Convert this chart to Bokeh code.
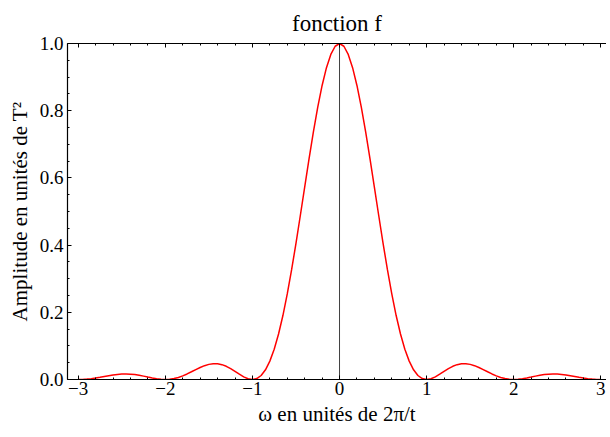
from bokeh.plotting import figure
from bokeh.models import (LinearAxis, SingleIntervalTicker, Span, Range1d,
                          CustomJSTickFormatter, ColumnDataSource)
from bokeh.embed import file_html
from bokeh.resources import INLINE

# ---- data ----
omega = [round(-3 + 0.05 * i, 2) for i in range(121)]
amp_pos = [1.0, 0.99179, 0.96753, 0.92814, 0.87514, 0.81057, 0.73684, 0.65665,
           0.57279, 0.48811, 0.40528, 0.32675, 0.25457, 0.19038, 0.13534,
           0.09006, 0.05470, 0.02890, 0.01194, 0.00275, 0.0,
           0.00225, 0.00800, 0.01579, 0.02431, 0.03242, 0.03924, 0.04414,
           0.04676, 0.04701, 0.04503, 0.04114, 0.03580, 0.02955, 0.02295,
           0.01654, 0.01080, 0.00610, 0.00268, 0.00065, 0.0,
           0.00059, 0.00219, 0.00452, 0.00723, 0.01001, 0.01254, 0.01457,
           0.01591, 0.01647, 0.01621, 0.01520, 0.01356, 0.01145, 0.00910,
           0.00670, 0.00447, 0.00257, 0.00115, 0.00028, 0.0]
amplitude = amp_pos[:0:-1] + amp_pos
x_tick_labels = {-3: "\u22123", -2: "\u22122", -1: "\u22121", 0: "0", 1: "1", 2: "2", 3: "3"}
y_tick_labels = {0: "0.0", 0.2: "0.2", 0.4: "0.4", 0.6: "0.6", 0.8: "0.8", 1: "1.0"}

FONT = "Liberation Serif"

p = figure(width=606, height=428, output_backend="svg", toolbar_location=None,
           x_range=Range1d(-3.123, 3.065), y_range=Range1d(0, 1),
           x_axis_location=None, y_axis_location=None,
           min_border_left=67, min_border_right=0, min_border_top=42,
           min_border_bottom=49)
p.title.text = "fonction f"
p.title.align = "center"
p.title.text_font = FONT
p.title.text_font_size = "23px"
p.title.text_font_style = "normal"
p.title.text_color = "black"
p.title.text_line_height = 0.8
p.title.standoff = 16
p.grid.visible = False
p.outline_line_color = None
p.background_fill_color = "white"
p.border_fill_color = "white"

xt = SingleIntervalTicker(interval=1, num_minor_ticks=5)
yt = SingleIntervalTicker(interval=0.2, num_minor_ticks=4)


def style(ax):
    ax.axis_line_color = "black"
    ax.axis_line_width = 1.2
    ax.major_tick_in = 4
    ax.major_tick_out = 0
    ax.minor_tick_in = 2
    ax.minor_tick_out = 0
    ax.major_tick_line_color = "black"
    ax.minor_tick_line_color = "black"
    ax.major_label_text_font = FONT
    ax.major_label_text_font_size = "19px"
    ax.major_label_text_color = "black"
    ax.axis_label_text_font = FONT
    ax.axis_label_text_font_size = "21px"
    ax.axis_label_text_font_style = "normal"
    ax.axis_label_text_color = "black"


xb = LinearAxis(ticker=xt, axis_label="\u03c9 en unit\u00e9s de 2\u03c0/t",
                major_label_overrides=x_tick_labels)
style(xb)
xb.major_label_standoff = 2
xb.axis_label_standoff = 4
p.add_layout(xb, "below")

xtop = LinearAxis(ticker=xt, formatter=CustomJSTickFormatter(code="return ''"))
style(xtop)
xtop.major_label_standoff = 0
xtop.major_label_text_font_size = "1px"
p.add_layout(xtop, "above")

yl = LinearAxis(ticker=yt, axis_label="Amplitude en unit\u00e9s de T\u00b2",
                major_label_overrides=y_tick_labels)
style(yl)
yl.major_label_standoff = 4
yl.axis_label_standoff = 5
p.add_layout(yl, "left")

p.add_layout(Span(location=0, dimension="height", line_color="black",
                  line_width=1, line_alpha=0.75))

src = ColumnDataSource(dict(x=omega, y=amplitude))
p.line("x", "y", source=src, line_color="#ff0000", line_width=1.5)

open("out.html", "w").write(file_html(p, INLINE))
